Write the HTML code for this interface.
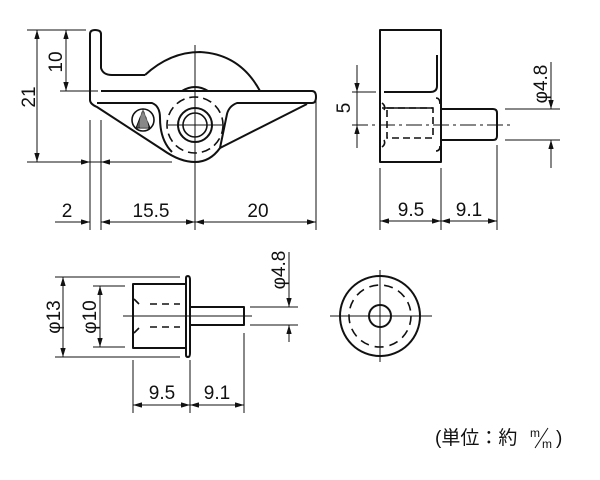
<!DOCTYPE html>
<html><head><meta charset="utf-8"><style>
html,body{margin:0;padding:0;background:#fff;}
svg{display:block}
text{font-family:"Liberation Sans","Noto Sans CJK JP",sans-serif;font-size:19px;fill:#111}
</style></head><body>
<svg width="600" height="480" viewBox="0 0 600 480" xmlns="http://www.w3.org/2000/svg">
<defs>
<marker id="a" viewBox="0 0 10 6" refX="10" refY="3" markerWidth="9" markerHeight="5.4" markerUnits="userSpaceOnUse" orient="auto-start-reverse"><path d="M0,0L10,3L0,6z" fill="#111"/></marker>
</defs>
<g stroke="#111" fill="none" stroke-width="1">
<g stroke-width="2" stroke-linejoin="round">
<path d="M90,34 Q90,30 95,30 Q101,30 101,34 L101,68 Q103,75 112,75 L145,75"/>
<path d="M145,75 Q170,52 200,52 Q240,54 260,91"/>
<path d="M101,91 L312,91 Q316,91 316,97 Q316,103 312,103 L237,103 Q229,106 227,114 L220,148 Q210,162 195,162 Q180,162 163,150 L97,107 Q90,104 90,100 L90,34"/>
<path d="M220,148 L307,104"/>
<path d="M97,103 L152,103 Q160,106 160,118 Q160,140 172,152"/>
<path d="M182,91 Q195,83 208,91"/>
<circle cx="195" cy="125" r="17"/>
<circle cx="195" cy="125" r="12" stroke-width="1.6"/>
<circle cx="143" cy="120" r="11" stroke-width="1.6"/>
</g>
<circle cx="195" cy="125" r="28" stroke-width="1.6" stroke-dasharray="9,5"/>
<path d="M143,110 L136,128 L150,128 Z" fill="#555" stroke-width="1"/>
<path d="M141,113V128M143,110V128M145,113V128M147,118V128" stroke="#fff" stroke-width="0.6"/>
<path d="M195,45V230M168,125H222"/>
<path d="M27,30H86M27,162H172M60,91H98"/>
<path d="M37,30V162" marker-start="url(#a)" marker-end="url(#a)"/>
<path d="M66,30V91" marker-start="url(#a)" marker-end="url(#a)"/>
<path d="M90,120V230M101,120V230M316,100V230"/>
<path d="M55,162H90" marker-end="url(#a)"/>
<path d="M135,162H101" marker-end="url(#a)"/>
<path d="M55,222H90" marker-end="url(#a)"/>
<path d="M101,222H195" marker-start="url(#a)" marker-end="url(#a)"/>
<path d="M195,222H316" marker-start="url(#a)" marker-end="url(#a)"/>
<g stroke-width="2" stroke-linejoin="round">
<rect x="380" y="30" width="61" height="132"/>
<path d="M437,55V86Q437,92 430,92H384"/>
<path d="M441,109H493Q497,109 497,113V136Q497,140 493,140H441"/>
</g>
<g stroke-width="1.6">
<rect x="387" y="108" width="46" height="30" stroke-dasharray="7,4"/>
<path d="M382,108H433M382,103Q386,106 384,110M382,147Q386,144 384,140M436,98Q440,98 440,104M436,151Q440,151 440,146"/>
</g>
<path d="M352,125H510" stroke-dasharray="16,4,3,4"/>
<path d="M352,92H376"/>
<path d="M357,65V92" marker-end="url(#a)"/>
<path d="M357,148V125" marker-end="url(#a)"/>
<path d="M357,92V125"/>
<path d="M505,109H560M505,140H560"/>
<path d="M551,62V109" marker-end="url(#a)"/>
<path d="M551,168V140" marker-end="url(#a)"/>
<path d="M380,168V230M441,168V230M497,145V230"/>
<path d="M380,221H441" marker-start="url(#a)" marker-end="url(#a)"/>
<path d="M441,221H497" marker-start="url(#a)" marker-end="url(#a)"/>
<g stroke-width="2" stroke-linejoin="round">
<rect x="133" y="284" width="53" height="64"/>
<path d="M186,278Q186,276 188,276Q190,276 190,280V353Q190,357 188,357Q186,357 186,355Z"/>
<path d="M190,307H244V325H190"/>
</g>
<g stroke-width="1.6">
<path d="M150,304H180M150,327H180" stroke-dasharray="7,5"/>
<path d="M134,299L139,304M134,333L139,328"/>
</g>
<path d="M123,316H252"/>
<path d="M55,277H180M55,357H180M93,286H125M93,347H125"/>
<path d="M63,277V357" marker-start="url(#a)" marker-end="url(#a)"/>
<path d="M100,286V347" marker-start="url(#a)" marker-end="url(#a)"/>
<path d="M250,307H298M250,325H298"/>
<path d="M289,252V307" marker-end="url(#a)"/>
<path d="M289,342V325" marker-end="url(#a)"/>
<path d="M133,360V413M190,360V413M244,333V413"/>
<path d="M133,405H190" marker-start="url(#a)" marker-end="url(#a)"/>
<path d="M190,405H244" marker-start="url(#a)" marker-end="url(#a)"/>
<circle cx="380" cy="316" r="40" stroke-width="2"/>
<circle cx="380" cy="316" r="31" stroke-width="1.6" stroke-dasharray="9,6"/>
<circle cx="380" cy="316" r="11" stroke-width="2"/>
<path d="M330,316H432M380,270V362"/>
</g>
<text transform="translate(35,97) rotate(-90)" text-anchor="middle">21</text>
<text transform="translate(62,62) rotate(-90)" text-anchor="middle">10</text>
<text x="67" y="217" text-anchor="middle">2</text>
<text x="151" y="217" text-anchor="middle">15.5</text>
<text x="258" y="217" text-anchor="middle">20</text>
<text transform="translate(350,108) rotate(-90)" text-anchor="middle">5</text>
<text transform="translate(547,84) rotate(-90)" text-anchor="middle">φ4.8</text>
<text x="411" y="216" text-anchor="middle">9.5</text>
<text x="469" y="216" text-anchor="middle">9.1</text>
<text transform="translate(60,317) rotate(-90)" text-anchor="middle">φ13</text>
<text transform="translate(96,317) rotate(-90)" text-anchor="middle">φ10</text>
<text transform="translate(285,270) rotate(-90)" text-anchor="middle">φ4.8</text>
<text x="162" y="399" text-anchor="middle">9.5</text>
<text x="217" y="399" text-anchor="middle">9.1</text>
<text x="435" y="444" style="font-size:19px">(単位：約</text>
<text x="530" y="437" style="font-size:12px">m</text>
<path d="M535,448L548,428" stroke="#111" stroke-width="1"/>
<text x="542" y="448" style="font-size:12px">m</text>
<text x="556" y="444" style="font-size:19px">)</text>
</svg>
</body></html>
